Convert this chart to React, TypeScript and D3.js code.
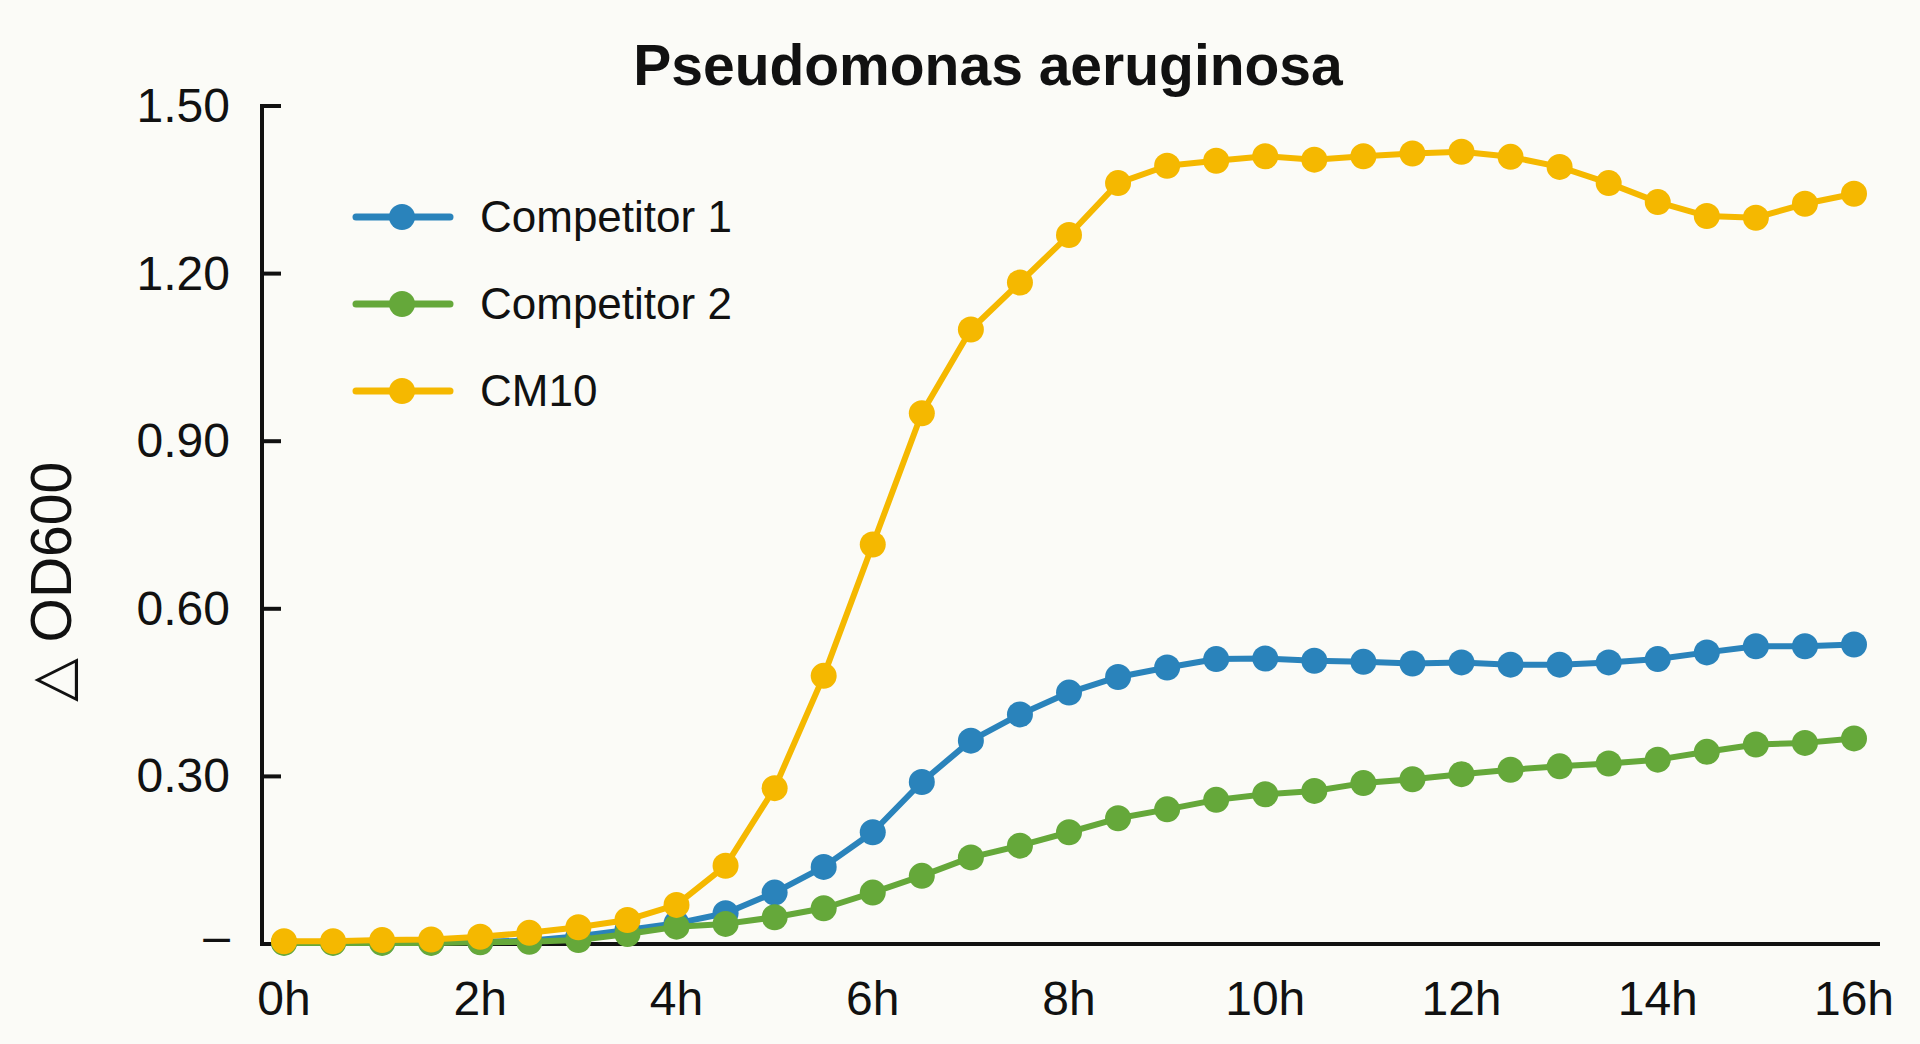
import * as d3 from "d3";
import React from "react";

// sampling times (h) and tick labels
const hours = [
  0, 0.5, 1, 1.5, 2, 2.5, 3, 3.5, 4, 4.5, 5, 5.5, 6, 6.5, 7, 7.5, 8, 8.5, 9,
  9.5, 10, 10.5, 11, 11.5, 12, 12.5, 13, 13.5, 14, 14.5, 15, 15.5, 16,
];
const xTicks = [0, 2, 4, 6, 8, 10, 12, 14, 16];
const yTicks = [0, 0.3, 0.6, 0.9, 1.2, 1.5];
const yTickLabels = ["–", "0.30", "0.60", "0.90", "1.20", "1.50"];

const competitor1 = [
  0.003, 0.003, 0.003, 0.003, 0.004, 0.006, 0.014, 0.025, 0.037, 0.055, 0.092,
  0.138, 0.2, 0.29, 0.364, 0.411, 0.45, 0.478, 0.495, 0.51, 0.511, 0.507, 0.505,
  0.502, 0.504, 0.5, 0.5, 0.504, 0.51, 0.522, 0.533, 0.533, 0.536,
];
const competitor2 = [
  0.002, 0.002, 0.002, 0.002, 0.003, 0.004, 0.007, 0.018, 0.031, 0.036, 0.048,
  0.064, 0.092, 0.122, 0.155, 0.176, 0.2, 0.225, 0.241, 0.258, 0.268, 0.274,
  0.288, 0.295, 0.304, 0.312, 0.318, 0.323, 0.33, 0.344, 0.357, 0.36, 0.368,
];
const cm10 = [
  0.005, 0.005, 0.007, 0.008, 0.013, 0.02, 0.03, 0.043, 0.07, 0.14, 0.279, 0.48,
  0.715, 0.95, 1.1, 1.184, 1.269, 1.362, 1.393, 1.402, 1.41, 1.404, 1.41, 1.415,
  1.418, 1.409, 1.391, 1.362, 1.328, 1.303, 1.3, 1.325, 1.343,
];

const seriesNames = ["Competitor 1", "Competitor 2", "CM10"];
const seriesValues = [competitor1, competitor2, cm10];
const seriesColors = ["#2a83bb", "#65a83a", "#f5b800"];

const W = 1920;
const H = 1044;
const FONT = "'Liberation Sans', Arial, Helvetica, sans-serif";

export default function App() {
  const x = d3.scaleLinear().domain([0, 16]).range([284, 1854]);
  const y = d3.scaleLinear().domain([0, 1.5]).range([944, 106]);

  const lineGen = d3
    .line<number>()
    .x((_, i) => x(hours[i]))
    .y((d) => y(d));

  const axisX = 262;
  const axisY = y(0);

  return (
    <svg
      width={W}
      height={H}
      viewBox={`0 0 ${W} ${H}`}
      style={{ position: "absolute", left: 0, top: 0, display: "block" }}
      fontFamily={FONT}
    >
      <rect width={W} height={H} fill="#fbfbf7" />

      <text
        x={988}
        y={85}
        textAnchor="middle"
        fontSize={57}
        fontWeight="bold"
        fill="#111"
      >
        Pseudomonas aeruginosa
      </text>

      {/* y axis */}
      <line x1={axisX} x2={axisX} y1={y(1.5) - 2} y2={axisY} stroke="#111" strokeWidth={4} />
      {yTicks.map((t, i) => (
        <g key={t}>
          {t > 0 && (
            <line x1={axisX} x2={axisX + 19} y1={y(t)} y2={y(t)} stroke="#111" strokeWidth={4} />
          )}
          <text
            x={230}
            y={t > 0 ? y(t) + 16 : y(t) + 9}
            textAnchor="end"
            fontSize={48}
            fill="#111"
          >
            {yTickLabels[i]}
          </text>
        </g>
      ))}

      {/* x axis */}
      <line x1={axisX - 2} x2={1880} y1={axisY} y2={axisY} stroke="#111" strokeWidth={4} />
      {xTicks.map((t) => (
        <text key={t} x={x(t)} y={1015} textAnchor="middle" fontSize={48} fill="#111">
          {t}h
        </text>
      ))}

      <text
        transform="translate(71, 582) rotate(-90)"
        textAnchor="middle"
        fontSize={57}
        fill="#111"
      >
        △ OD600
      </text>

      {/* series */}
      {seriesValues.map((vals, s) => (
        <g key={seriesNames[s]}>
          <path
            d={lineGen(vals)!}
            fill="none"
            stroke={seriesColors[s]}
            strokeWidth={6}
            strokeLinejoin="round"
          />
          {vals.map((v, i) => (
            <circle key={i} cx={x(hours[i])} cy={y(v)} r={13} fill={seriesColors[s]} />
          ))}
        </g>
      ))}

      {/* legend */}
      {seriesNames.map((name, s) => {
        const ly = 217 + s * 87;
        return (
          <g key={name}>
            <line
              x1={356}
              x2={450}
              y1={ly}
              y2={ly}
              stroke={seriesColors[s]}
              strokeWidth={7}
              strokeLinecap="round"
            />
            <circle cx={402} cy={ly} r={13} fill={seriesColors[s]} />
            <text x={480} y={ly + 15} fontSize={44} fill="#111">
              {name}
            </text>
          </g>
        );
      })}
    </svg>
  );
}
